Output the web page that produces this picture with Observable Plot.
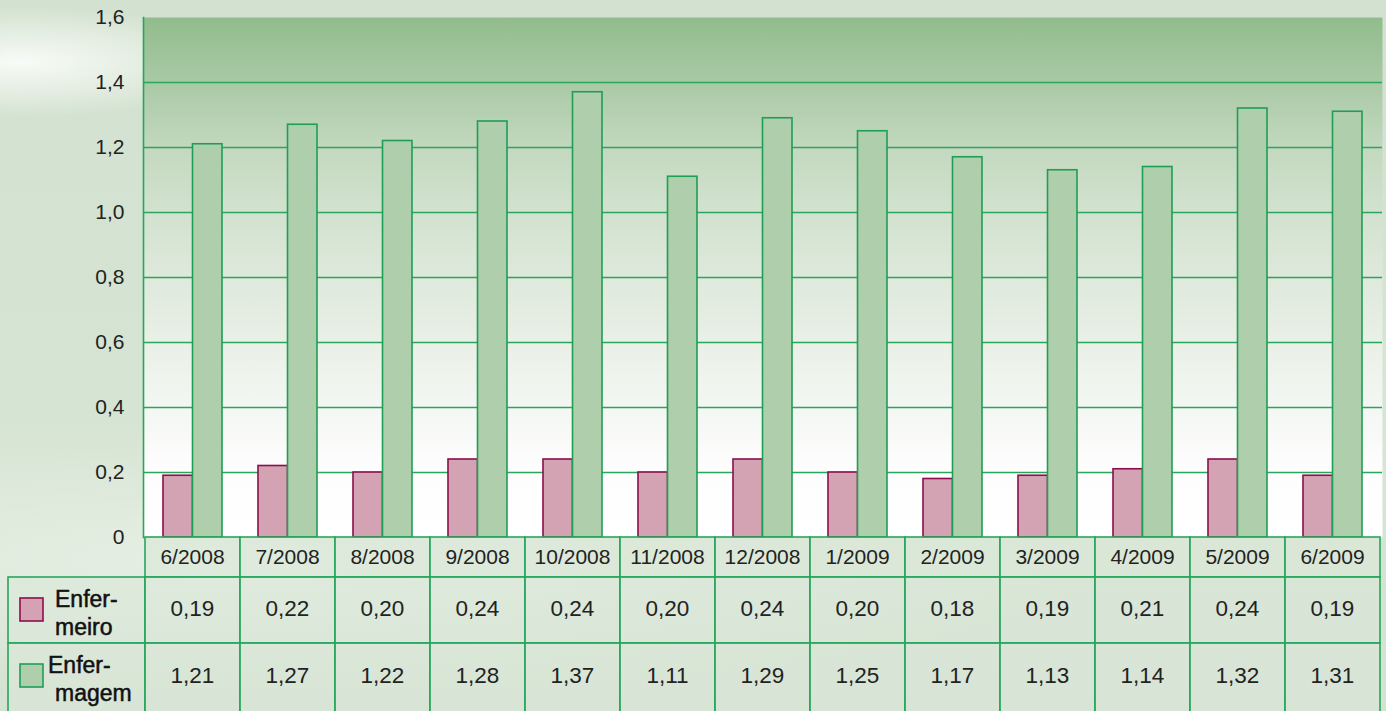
<!DOCTYPE html>
<html>
<head>
<meta charset="utf-8">
<script src="https://cdn.jsdelivr.net/npm/d3@7"></script>
<script src="https://cdn.jsdelivr.net/npm/@observablehq/plot@0.6"></script>
<style>
  html, body { margin: 0; padding: 0; width: 1386px; height: 711px; overflow: hidden; }
  body {
    background:
      radial-gradient(ellipse 230px 55px at 20px 62px, rgba(250,252,249,0.95), rgba(250,252,249,0) 100%),
      radial-gradient(ellipse 900px 140px at 250px 560px, rgba(235,242,232,0.8), rgba(235,242,232,0) 100%),
      linear-gradient(180deg, #d3e2d0 0%, #d6e4d3 60%, #d4e2d1 100%);
  }
  #chart { position: absolute; left: 0; top: 0; }
</style>
</head>
<body>
<div id="chart"></div>
<script>
const months = ["6/2008","7/2008","8/2008","9/2008","10/2008","11/2008","12/2008","1/2009","2/2009","3/2009","4/2009","5/2009","6/2009"];
const enfermeiro = [0.19,0.22,0.20,0.24,0.24,0.20,0.24,0.20,0.18,0.19,0.21,0.24,0.19];
const enfermagem = [1.21,1.27,1.22,1.28,1.37,1.11,1.29,1.25,1.17,1.13,1.14,1.32,1.31];
const yTicks = [0,0.2,0.4,0.6,0.8,1.0,1.2,1.4,1.6];
const seriesLabels = [["Enfer-","meiro"],["Enfer-","magem"]];
const seriesValues = [enfermeiro, enfermagem];

const data = months.map((m, i) => ({month: m, enfermeiro: enfermeiro[i], enfermagem: enfermagem[i]}));
const fmt = d => d === 0 ? "0" : d3.format(".1f")(d).replace(".", ",");
const fmt2 = d => d3.format(".2f")(d).replace(".", ",");

const GRID = "#27a65c";
const PINK = "#d4a3b3", PINK_S = "#8c0d4d";
const GREEN = "#afceac", GREEN_S = "#1f9e55";
const FONT = "'Liberation Sans', Arial, sans-serif";

const plot = Plot.plot({
  width: 1386, height: 711,
  marginLeft: 143, marginRight: 4, marginTop: 17, marginBottom: 174,
  style: {background: "transparent", fontFamily: FONT, fontSize: "21px", color: "#222"},
  x: {domain: months, paddingInner: 0.38, paddingOuter: 0.19, axis: null},
  y: {domain: [0, 1.6], label: null},
  marks: [
    Plot.frame({fill: "url(#plotGrad)", stroke: null}),
    Plot.ruleY(yTicks.filter(d => d > 0 && d < 1.6), {stroke: GRID, strokeWidth: 1.6}),
    Plot.frame({anchor: "left", stroke: GRID, strokeWidth: 1.6, strokeOpacity: 1}),
    Plot.axisY(yTicks, {tickFormat: fmt, tickSize: 0, tickPadding: 19, fontSize: 21, fill: "#222", label: null}),
    Plot.barY(data, {x: "month", y: "enfermeiro", fill: PINK, stroke: PINK_S, strokeWidth: 1.6, insetRight: 29.5}),
    Plot.barY(data, {x: "month", y: "enfermagem", fill: GREEN, stroke: GREEN_S, strokeWidth: 1.6, insetLeft: 29.5})
  ]
});

const svg = d3.select(plot);
const defs = svg.insert("defs", ":first-child");
const grad = defs.append("linearGradient").attr("id", "plotGrad").attr("x1", 0).attr("y1", 0).attr("x2", 0).attr("y2", 1);
[[0, "#92bc8d"], [0.125, "#a9c9a5"], [0.256, "#c4d9c0"], [0.375, "#d2e2cf"], [0.506, "#dfe9dc"],
 [0.62, "#e9f0e7"], [0.756, "#f4f7f3"], [0.86, "#fdfdfd"], [1, "#ffffff"]]
  .forEach(([o, c]) => grad.append("stop").attr("offset", o).attr("stop-color", c));

const x = plot.scale("x");
const y = plot.scale("y");
const step = x.step, bw = x.bandwidth;
const y0 = y.apply(0);
const rowH = [40, 66, 70];
const rowTop = [y0, y0 + rowH[0], y0 + rowH[0] + rowH[1]];
const tableLeft = 8;
const cellFill = "#dbe8d8";

const tbl = svg.append("g").attr("font-family", FONT);
// header row
months.forEach(m => {
  const left = x.apply(m) - (step - bw) / 2;
  tbl.append("rect").attr("x", left).attr("y", rowTop[0]).attr("width", step).attr("height", rowH[0])
    .attr("fill", cellFill).attr("fill-opacity", 0.75).attr("stroke", GRID).attr("stroke-width", 1.6);
  tbl.append("text").attr("x", left + step / 2).attr("y", rowTop[0] + rowH[0] / 2 + 1)
    .attr("text-anchor", "middle").attr("dominant-baseline", "middle")
    .attr("font-size", 21).attr("fill", "#222").text(m);
});
// data rows
seriesValues.forEach((vals, r) => {
  const top = rowTop[r + 1], h = rowH[r + 1];
  const xs = x.apply(months[0]) - (step - bw) / 2;
  tbl.append("rect").attr("x", tableLeft).attr("y", top).attr("width", xs - tableLeft).attr("height", h)
    .attr("fill", cellFill).attr("fill-opacity", 0.6).attr("stroke", GRID).attr("stroke-width", 1.6);
  tbl.append("rect").attr("x", 20).attr("y", top + 21).attr("width", 23).attr("height", 23)
    .attr("fill", r === 0 ? PINK : GREEN).attr("stroke", r === 0 ? PINK_S : GREEN_S).attr("stroke-width", 1.6);
  const lx = r === 0 ? 55 : 48;
  tbl.append("text").attr("x", lx).attr("y", top + 30).attr("text-anchor", "start")
    .attr("font-size", 23).attr("fill", "#111").attr("stroke", "#111").attr("stroke-width", 0.5).text(seriesLabels[r][0]);
  tbl.append("text").attr("x", 55).attr("y", top + 58).attr("text-anchor", "start")
    .attr("font-size", 23).attr("fill", "#111").attr("stroke", "#111").attr("stroke-width", 0.5).text(seriesLabels[r][1]);
  months.forEach((m, i) => {
    const left = x.apply(m) - (step - bw) / 2;
    tbl.append("rect").attr("x", left).attr("y", top).attr("width", step).attr("height", h)
      .attr("fill", cellFill).attr("fill-opacity", 0.6).attr("stroke", GRID).attr("stroke-width", 1.6);
    tbl.append("text").attr("x", left + step / 2).attr("y", top + (r === 0 ? 33 : 34))
      .attr("text-anchor", "middle").attr("dominant-baseline", "middle")
      .attr("font-size", 22.5).attr("fill", "#222").text(fmt2(vals[i]));
  });
});

document.getElementById("chart").appendChild(plot);
</script>
</body>
</html>
